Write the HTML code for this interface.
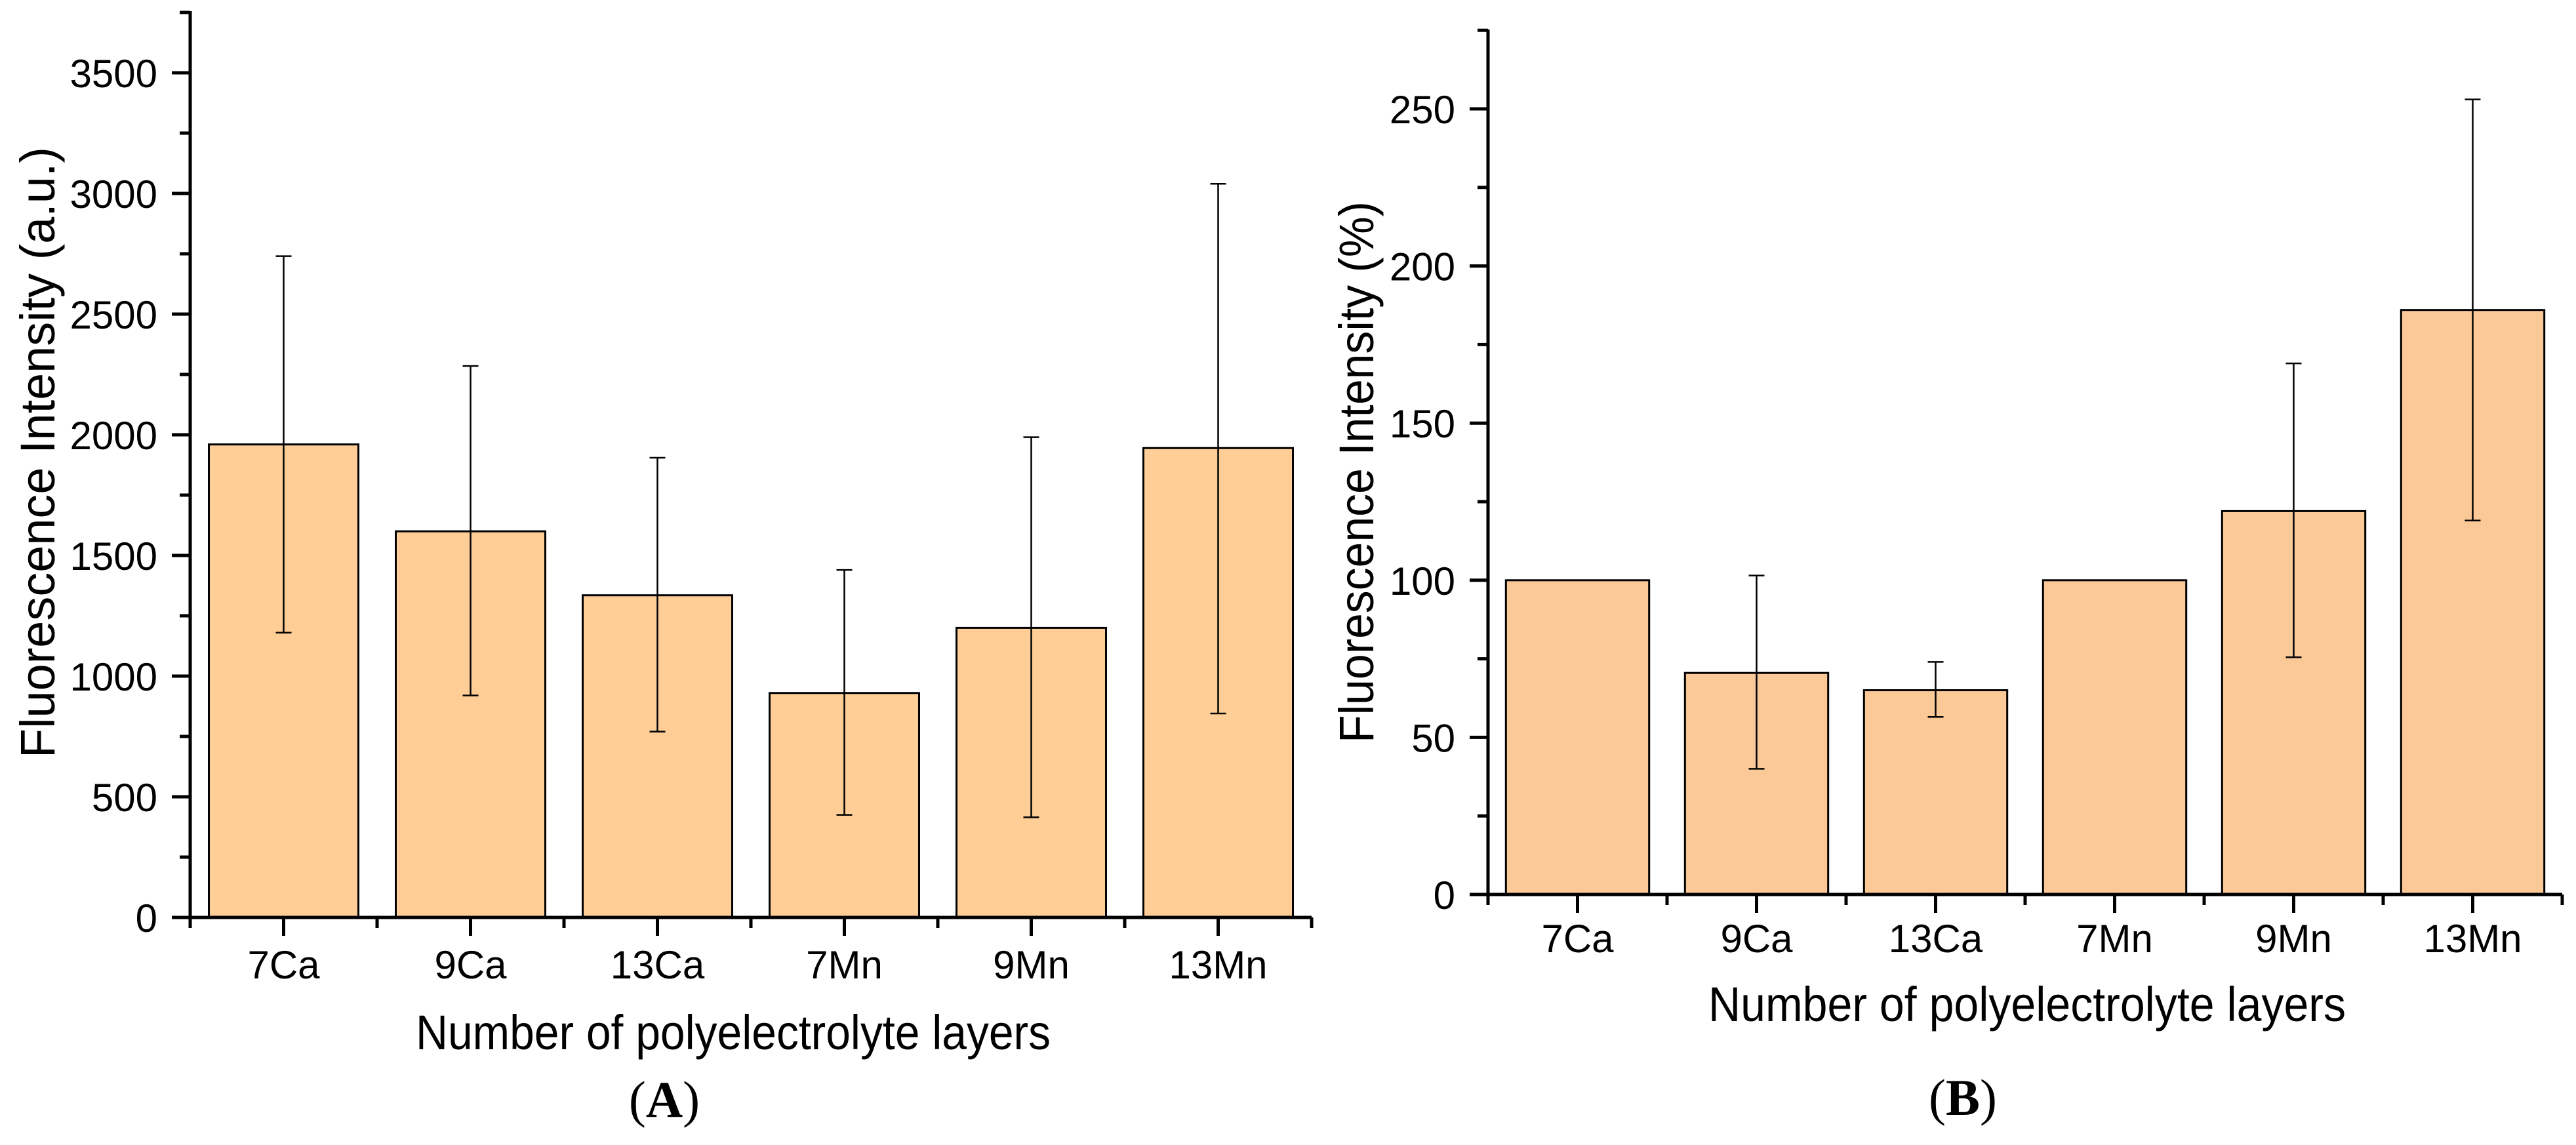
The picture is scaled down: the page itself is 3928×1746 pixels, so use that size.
<!DOCTYPE html>
<html><head><meta charset="utf-8"><style>
html,body{margin:0;padding:0;background:#fff;}
svg{display:block;}
text{font-family:"Liberation Sans",Arial,sans-serif;fill:#000;}
</style></head><body>
<svg id="fig" width="3928" height="1746" viewBox="0 0 3928 1746" xmlns="http://www.w3.org/2000/svg">
<g id="chartA"></g>
<g id="chartB"></g>
<text x="1013" y="1703" text-anchor="middle" style="font-family:'Liberation Serif',serif;font-size:78px">(<tspan font-weight="bold">A</tspan>)</text>
<text x="2993" y="1700" text-anchor="middle" style="font-family:'Liberation Serif',serif;font-size:78px">(<tspan font-weight="bold">B</tspan>)</text>
</svg>
<script>
const categories = ["7Ca","9Ca","13Ca","7Mn","9Mn","13Mn"];
const valuesA = [1960,1600,1335,930,1200,1945];
const errLowA = [1180,920,770,425,415,845];
const errHighA = [2740,2285,1905,1440,1990,3040];
const ticksA = [0,500,1000,1500,2000,2500,3000,3500];
const valuesB = [100,70.5,65,100,122,186];
const errLowB = [null,40,56.5,null,75.5,119];
const errHighB = [null,101.5,74,null,169,253];
const ticksB = [0,50,100,150,200,250];

const NS="http://www.w3.org/2000/svg";
function mk(parent,tag,attrs){const e=document.createElementNS(NS,tag);for(const k in attrs)e.setAttribute(k,attrs[k]);parent.appendChild(e);return e;}

function draw(gid,cfg){
  const g=document.getElementById(gid);
  const y=v=>cfg.y0-(v/cfg.step)*cfg.stepPx;
  const x=i=>cfg.ax+(i+0.5)*cfg.band;
  const bw=cfg.band*0.8;
  categories.forEach((c,i)=>{
    const r=mk(g,'rect',{x:x(i)-bw/2,y:y(cfg.vals[i]),width:bw,height:cfg.y0-y(cfg.vals[i]),fill:cfg.fill,stroke:'#000','stroke-width':3});
    
    
    if(cfg.lo[i]!=null){
      const eg=mk(g,'g',{stroke:'#000','stroke-width':2.5});
      
      
      mk(eg,'line',{x1:x(i),x2:x(i),y1:y(cfg.lo[i]),y2:y(cfg.hi[i])});
      mk(eg,'line',{x1:x(i)-12,x2:x(i)+12,y1:y(cfg.lo[i]),y2:y(cfg.lo[i])});
      mk(eg,'line',{x1:x(i)-12,x2:x(i)+12,y1:y(cfg.hi[i]),y2:y(cfg.hi[i])});
    }
    const t=mk(g,'text',{x:x(i),y:cfg.xlabY,'text-anchor':'middle','font-size':60});
    t.textContent=c;
    
    
    mk(g,'line',{x1:x(i),x2:x(i),y1:cfg.y0,y2:cfg.y0+28,stroke:'#000','stroke-width':5});
  });
  for(let i=0;i<=categories.length;i++){
    const xx=cfg.ax+i*cfg.band;
    mk(g,'line',{x1:xx,x2:xx,y1:cfg.y0,y2:cfg.y0+16,stroke:'#000','stroke-width':5});
  }
  const ax=mk(g,'path',{d:`M${cfg.ax},${cfg.top} V${cfg.y0} H${cfg.ax+categories.length*cfg.band}`,fill:'none',stroke:'#000','stroke-width':5});
  
  
  cfg.ticks.forEach(v=>{
    mk(g,'line',{x1:cfg.ax-28,x2:cfg.ax,y1:y(v),y2:y(v),stroke:'#000','stroke-width':5});
    const t=mk(g,'text',{x:cfg.ax-50,y:y(v)+22,'text-anchor':'end','font-size':60});
    t.textContent=v;
    
    
  });
  for(let v=cfg.step/2;y(v)>=cfg.top-2;v+=cfg.step){
    mk(g,'line',{x1:cfg.ax-16,x2:cfg.ax,y1:y(v),y2:y(v),stroke:'#000','stroke-width':5});
  }
  const yt=mk(g,'text',{x:0,y:0,'text-anchor':'middle','font-size':74,textLength:cfg.ytLen,lengthAdjust:'spacingAndGlyphs',transform:`translate(${cfg.ytX},${cfg.ytY}) rotate(-90)`});
  yt.textContent=cfg.ytitle;
  
  
  const xt=mk(g,'text',{x:cfg.xtX,y:cfg.xtY,'text-anchor':'middle','font-size':74,textLength:cfg.xtLen,lengthAdjust:'spacingAndGlyphs'});
  xt.textContent='Number of polyelectrolyte layers';
  
  
}
draw('chartA',{ax:290,band:285,y0:1399,step:500,stepPx:184,top:17,vals:valuesA,lo:errLowA,hi:errHighA,ticks:ticksA,fill:'#FECE96',xlabY:1492,ytitle:'Fluorescence Intensity (a.u.)',ytX:83,ytY:690,ytLen:932,xtX:1118,xtY:1600,xtLen:968});
draw('chartB',{ax:2269,band:273,y0:1364,step:50,stepPx:239.6,top:45,vals:valuesB,lo:errLowB,hi:errHighB,ticks:ticksB,fill:'#FBC897',xlabY:1452,ytitle:'Fluorescence Intensity (%)',ytX:2094,ytY:720,ytLen:826,xtX:3091,xtY:1557,xtLen:972});
</script>
</body></html>
